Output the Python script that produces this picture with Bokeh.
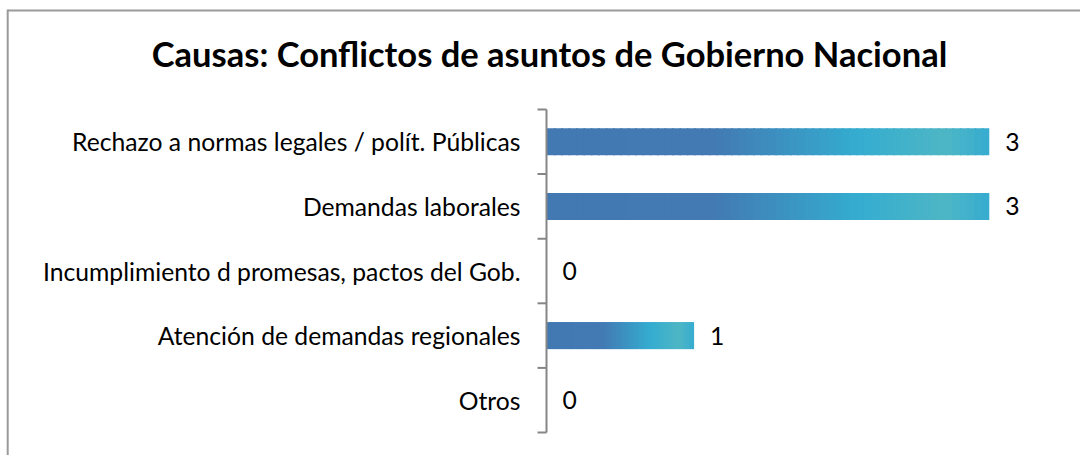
from bokeh.plotting import figure
from bokeh.models import Range1d, ColumnDataSource
from bokeh.core.properties import value
from bokeh.embed import file_html
from bokeh.resources import INLINE

# ---- data ----
title_text = "Causas: Conflictos de asuntos de Gobierno Nacional"
categories = [
    "Rechazo a normas legales / polít. Públicas",
    "Demandas laborales",
    "Incumplimiento d promesas, pactos del Gob.",
    "Atención de demandas regionales",
    "Otros",
]
counts = [3, 3, 0, 1, 0]

# ---- layout helpers (canvas pixels -> data) ----
W, H = 1080, 455
X0, PX = 546.0, 147.6      # canvas px of x=0, px per unit
Y5, PY = 109.0, 64.6       # canvas px of top band edge, px per band
n = len(categories)

def xd(px):
    return (px - X0) / PX

def yd(py):
    return n - (py - Y5) / PY

p = figure(width=W, height=H, output_backend="svg", toolbar_location=None,
           x_range=Range1d(xd(0), xd(W)), y_range=Range1d(yd(H), yd(0)),
           x_axis_location=None, y_axis_location=None, min_border=0,
           background_fill_color="white", border_fill_color="white")
p.grid.visible = False
p.outline_line_color = None

ycent = [n - k - 0.5 for k in range(n)]

# ---- gradient bars (built as thin slices of each bar) ----
stops = [(0.0, (0x42, 0x79, 0xB2)), (0.38, (0x43, 0x7A, 0xB3)),
         (0.70, (0x34, 0xAC, 0xD0)), (0.90, (0x4E, 0xB6, 0xC5)),
         (1.0, (0x36, 0xAC, 0xD0))]

def grad(t):
    for (t0, c0), (t1, c1) in zip(stops[:-1], stops[1:]):
        if t0 <= t <= t1:
            f = (t - t0) / (t1 - t0)
            return "#%02x%02x%02x" % tuple(int(round(a + (b - a) * f)) for a, b in zip(c0, c1))
    return "#%02x%02x%02x" % stops[-1][1]

NS = 60
L, R, Y, C = [], [], [], []
for v, yc in zip(counts, ycent):
    if v <= 0:
        continue
    for i in range(NS):
        t0, t1 = i / NS, (i + 1) / NS
        L.append(v * t0)
        R.append(min(v * t1 + 0.012, v))
        Y.append(yc)
        C.append(grad((t0 + t1) / 2))
p.hbar(y="y", left="l", right="r", height=27 / PY, fill_color="c", line_color=None,
       source=ColumnDataSource(dict(y=Y, l=L, r=R, c=C)))

# ---- axis line and ticks ----
axc = "#868686"
p.segment(x0=[0], y0=[0], x1=[0], y1=[n], line_color=axc, line_width=2)
p.segment(x0=[xd(X0 - 9)] * (n + 1), y0=list(range(n + 1)),
          x1=[0] * (n + 1), y1=list(range(n + 1)), line_color=axc, line_width=2)

# ---- category labels ----
p.text(x=[xd(520)] * n, y=ycent, text=categories, text_align="right",
       text_baseline="alphabetic", y_offset=0, text_font=value("Lato"),
       text_font_size="24.7px", text_color="#000000")

# ---- value labels ----
p.text(x=counts, y=ycent, text=[str(c) for c in counts], text_align="left",
       text_baseline="alphabetic", x_offset=16, y_offset=0, text_font=value("Lato"),
       text_font_size="24.7px", text_color="#000000")

# ---- title ----
p.text(x=[xd(549)], y=[yd(53)], text=[title_text], text_align="center",
       text_baseline="alphabetic", text_font=value("Lato"), text_font_style="bold",
       text_font_size="34.5px", text_color="#000000")

# ---- chart border (left and top) ----
bc = "#9a9a9a"
p.segment(x0=[xd(7.2)], y0=[yd(10)], x1=[xd(W)], y1=[yd(10)], line_color=bc, line_width=2)
p.segment(x0=[xd(7.2)], y0=[yd(9)], x1=[xd(7.2)], y1=[yd(H)], line_color=bc, line_width=2)

open("out.html", "w").write(file_html(p, INLINE))
